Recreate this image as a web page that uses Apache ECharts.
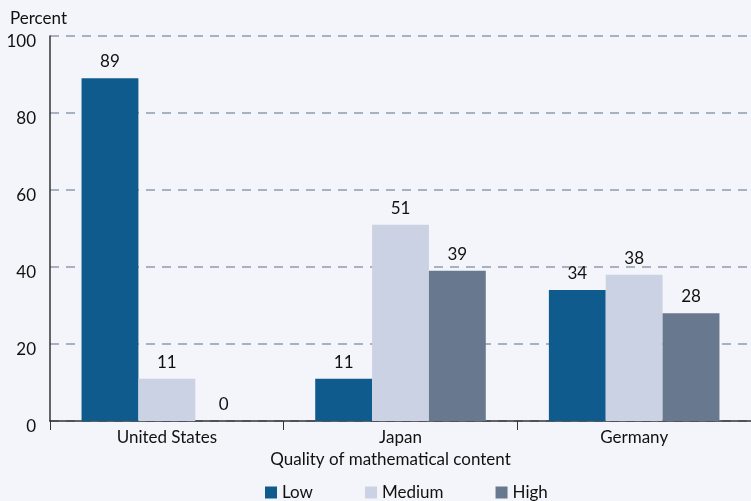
<!DOCTYPE html>
<html>
<head>
<meta charset="utf-8">
<script src="https://cdn.jsdelivr.net/npm/echarts@6/dist/echarts.min.js"></script>
<style>
  html, body { margin: 0; padding: 0; background: #f4f5fa; }
  #chart { width: 751px; height: 501px; }
</style>
</head>
<body>
<div id="chart"></div>
<script>
var countries = ['United States', 'Japan', 'Germany'];
var lowValues = [89, 11, 34];
var mediumValues = [11, 51, 38];
var highValues = [0, 39, 28];

var font = 'Lato, "Open Sans", sans-serif';
var chart = echarts.init(document.getElementById('chart'));

function barSeries (name, data, color) {
  return {
    name: name,
    type: 'bar',
    data: data,
    barGap: 0,
    barCategoryGap: '27%',
    itemStyle: { color: color },
    label: {
      show: true,
      position: 'top',
      distance: 8,
      color: '#111',
      fontSize: 17,
      fontFamily: font
    }
  };
}

var option = {
  backgroundColor: '#f4f5fa',
  animation: false,
  textStyle: { fontFamily: font },
  grid: { left: 50, right: 0, top: 36, bottom: 80 },
  legend: {
    bottom: -5,
    left: 260,
    itemWidth: 12,
    itemHeight: 12,
    itemGap: 52,
    icon: 'rect',
    textStyle: { fontSize: 17, color: '#111', fontFamily: font },
    data: ['Low', 'Medium', 'High']
  },
  title: {
    text: 'Percent',
    left: 5,
    top: 5,
    textStyle: { fontSize: 17, fontWeight: 'normal', color: '#111', fontFamily: font }
  },
  xAxis: {
    type: 'category',
    data: countries,
    name: 'Quality of mathematical content',
    nameLocation: 'middle',
    nameGap: 30,
    nameTextStyle: { fontSize: 17, color: '#111', fontFamily: font, padding: [0, 20, 0, 0] },
    axisLine: { lineStyle: { color: '#333', width: 1.5 } },
    axisTick: { show: true, length: 9, lineStyle: { color: '#333' } },
    axisLabel: { fontSize: 17, color: '#111', margin: 8, fontFamily: font }
  },
  yAxis: {
    type: 'value',
    min: 0,
    max: 100,
    interval: 20,
    axisLine: { show: true, lineStyle: { color: '#333', width: 1.5 } },
    axisTick: { show: false },
    axisLabel: { fontSize: 17, color: '#111', margin: 14, verticalAlign: 'top', lineHeight: 12, fontFamily: font },
    splitLine: { lineStyle: { color: '#8c9bb0', type: [9, 7], width: 1.5 } }
  },
  series: [
    barSeries('Low', lowValues, '#105b8e'),
    barSeries('Medium', mediumValues, '#cbd2e3'),
    barSeries('High', highValues, '#67788f')
  ]
};

chart.setOption(option);
</script>
</body>
</html>
